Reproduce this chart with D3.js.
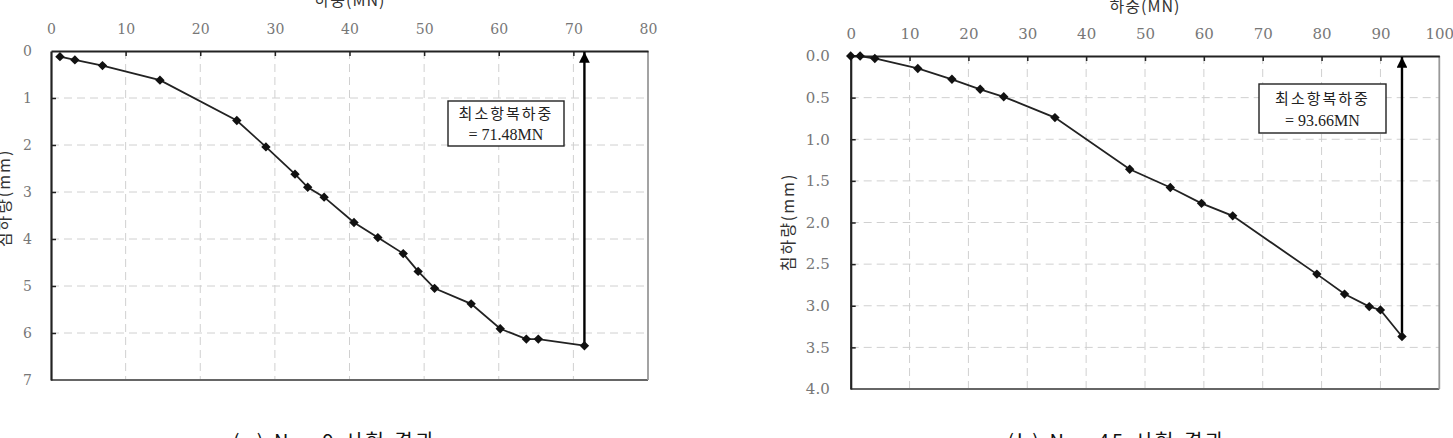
<!DOCTYPE html>
<html>
<head>
<meta charset="utf-8">
<script src="https://cdn.jsdelivr.net/npm/d3@7"></script>
<style>
  body { margin: 0; background: #fff; }
  svg { display: block; }
</style>
</head>
<body>
<script>
// (a) left test: load (MN) vs settlement (mm)
const loadA = [1.2, 3.2, 6.9, 14.6, 24.9, 28.8, 32.7, 34.4, 36.6, 40.6, 43.8, 47.2, 49.2, 51.4, 56.3, 60.2, 63.7, 65.3, 71.48];
const settleA = [0.12, 0.19, 0.31, 0.62, 1.48, 2.04, 2.62, 2.90, 3.11, 3.65, 3.97, 4.31, 4.69, 5.05, 5.38, 5.91, 6.13, 6.13, 6.27];
const xTicksA = [0, 10, 20, 30, 40, 50, 60, 70, 80];
const yTicksA = [0, 1, 2, 3, 4, 5, 6, 7];

// (b) right test
const loadB = [0, 1.6, 4.1, 11.4, 17.2, 22.0, 26.0, 34.7, 47.4, 54.3, 59.6, 64.9, 79.2, 83.9, 88.1, 90.0, 93.66];
const settleB = [0, 0, 0.03, 0.15, 0.28, 0.40, 0.49, 0.74, 1.36, 1.58, 1.77, 1.92, 2.62, 2.86, 3.01, 3.05, 3.37];
const xTicksB = [0, 10, 20, 30, 40, 50, 60, 70, 80, 90, 100];
const yTicksB = [0, 0.5, 1.0, 1.5, 2.0, 2.5, 3.0, 3.5, 4.0];

const xTitle = "하중(MN)";
const yTitle = "침하량(mm)";

const width = 1453, height = 438;
const svg = d3.select("body").append("svg")
    .attr("width", width)
    .attr("height", height);

const kr = "'Noto Sans CJK KR', sans-serif";
const serif = "'DejaVu Serif', 'Liberation Serif', serif";

svg.append("defs").append("marker")
    .attr("id", "arrow")
    .attr("viewBox", "0 0 10 10")
    .attr("refX", 10).attr("refY", 5)
    .attr("markerWidth", 4.5).attr("markerHeight", 4.5)
    .attr("orient", "auto")
  .append("path")
    .attr("d", "M0,0 L10,5 L0,10 z")
    .attr("fill", "#000");

function drawPanel(cfg) {
    const xScale = d3.scaleLinear().domain(cfg.xDomain).range([cfg.left, cfg.right]);
    const yScale = d3.scaleLinear().domain(cfg.yDomain).range([cfg.top, cfg.bottom]);
    const g = svg.append("g");

    // dashed grid
    g.append("g").selectAll("line")
        .data(cfg.xTicks.slice(1, -1))
        .enter().append("line")
        .attr("x1", d => xScale(d)).attr("x2", d => xScale(d))
        .attr("y1", cfg.top).attr("y2", cfg.bottom)
        .attr("stroke", "#d0d0d0")
        .attr("stroke-dasharray", "8,5");
    g.append("g").selectAll("line")
        .data(cfg.yTicks.slice(1, -1))
        .enter().append("line")
        .attr("y1", d => yScale(d)).attr("y2", d => yScale(d))
        .attr("x1", cfg.left).attr("x2", cfg.right)
        .attr("stroke", "#d0d0d0")
        .attr("stroke-dasharray", "8,5");

    // bottom and right frame (lighter)
    g.append("line")
        .attr("x1", cfg.left).attr("x2", cfg.right)
        .attr("y1", cfg.bottom).attr("y2", cfg.bottom)
        .attr("stroke", "#666").attr("stroke-width", 1.8);
    g.append("line")
        .attr("x1", cfg.right).attr("x2", cfg.right)
        .attr("y1", cfg.top).attr("y2", cfg.bottom)
        .attr("stroke", "#999").attr("stroke-width", 1.8);

    // axes
    const xAxis = d3.axisTop(xScale)
        .tickValues(cfg.xTicks)
        .tickSizeInner(-5).tickSizeOuter(0)
        .tickPadding(cfg.xPad);
    const gx = g.append("g")
        .attr("transform", `translate(0,${cfg.top})`)
        .call(xAxis);

    const yAxis = d3.axisLeft(yScale)
        .tickValues(cfg.yTicks)
        .tickFormat(cfg.yFormat)
        .tickSizeInner(-5).tickSizeOuter(0)
        .tickPadding(cfg.yPad);
    const gy = g.append("g")
        .attr("transform", `translate(${cfg.left},0)`)
        .call(yAxis);

    [gx, gy].forEach(a => {
        a.attr("font-size", null).attr("font-family", null);
        a.select(".domain").attr("stroke", "#222").attr("stroke-width", 2.2);
        a.selectAll(".tick line").attr("stroke", "#222").attr("stroke-width", 1.5);
        a.selectAll(".tick text")
            .attr("fill", "#777")
            .style("font-family", serif)
            .style("font-size", cfg.tickSize + "px");
    });
    gx.selectAll(".tick").filter(d => d === 0 || d === cfg.xTicks[cfg.xTicks.length - 1])
        .select("line").remove();
    gy.selectAll(".tick").filter(d => d === cfg.yTicks[0] || d === cfg.yTicks[cfg.yTicks.length - 1])
        .select("line").remove();

    // axis titles
    g.append("text")
        .attr("x", cfg.xTitleX).attr("y", cfg.xTitleY)
        .attr("text-anchor", "middle")
        .style("font-family", kr)
        .style("font-size", "16px")
        .style("letter-spacing", "1px")
        .attr("fill", "#333")
        .text(xTitle);
    g.append("text")
        .attr("transform", `translate(${cfg.yTitleX},${cfg.yTitleY}) rotate(-90)`)
        .attr("text-anchor", "middle")
        .attr("dy", "0.35em")
        .style("font-family", kr)
        .style("font-size", "16px")
        .style("letter-spacing", "2px")
        .attr("fill", "#333")
        .text(yTitle);

    // yield arrow
    const last = cfg.loads.length - 1;
    g.append("line")
        .attr("x1", xScale(cfg.loads[last])).attr("x2", xScale(cfg.loads[last]))
        .attr("y1", yScale(cfg.settles[last])).attr("y2", cfg.top + 1)
        .attr("stroke", "#000").attr("stroke-width", 2.4)
        .attr("marker-end", "url(#arrow)");

    // curve
    const pts = cfg.loads.map((v, i) => [v, cfg.settles[i]]);
    g.append("path")
        .datum(pts)
        .attr("fill", "none")
        .attr("stroke", "#222")
        .attr("stroke-width", 1.8)
        .attr("d", d3.line().x(d => xScale(d[0])).y(d => yScale(d[1])));

    g.append("g").selectAll("path")
        .data(pts)
        .enter().append("path")
        .attr("transform", d => `translate(${xScale(d[0])},${yScale(d[1])}) rotate(45)`)
        .attr("d", d3.symbol().type(d3.symbolSquare).size(44))
        .attr("fill", "#111");

    // annotation box
    const box = cfg.box;
    g.append("rect")
        .attr("x", box.x).attr("y", box.y)
        .attr("width", box.w).attr("height", box.h)
        .attr("fill", "#fff")
        .attr("stroke", "#222").attr("stroke-width", 1.4);
    g.append("text")
        .attr("x", box.x + box.w / 2).attr("y", box.y + box.h * 0.4)
        .attr("text-anchor", "middle")
        .style("font-family", kr).style("font-size", "15px")
        .style("letter-spacing", "2px")
        .attr("fill", "#222")
        .text("최소항복하중");
    g.append("text")
        .attr("x", box.x + box.w / 2).attr("y", box.y + box.h * 0.86)
        .attr("text-anchor", "middle")
        .style("font-family", "'Liberation Serif', serif").style("font-size", "16px")
        .attr("fill", "#222")
        .text(cfg.boxValue);

    // caption
    g.append("text")
        .attr("x", cfg.capX).attr("y", 449)
        .attr("text-anchor", "middle")
        .style("font-family", kr).style("font-size", "20px")
        .style("letter-spacing", "3px")
        .attr("fill", "#111")
        .text(cfg.caption);
}

drawPanel({
    xDomain: [0, 80], yDomain: [0, 7],
    left: 51, right: 648, top: 51, bottom: 380,
    xTicks: xTicksA, yTicks: yTicksA,
    yFormat: d3.format("d"), tickSize: 14,
    xPad: 17, yPad: 19,
    xTitleX: 350, xTitleY: 6, yTitleX: 4, yTitleY: 198,
    loads: loadA, settles: settleA,
    box: { x: 448, y: 101, w: 116, h: 45 },
    boxValue: "= 71.48MN",
    capX: 335, caption: "(a) No. 9 시험 결과"
});

drawPanel({
    xDomain: [0, 100], yDomain: [0, 4],
    left: 850.7, right: 1439.3, top: 56, bottom: 389,
    xTicks: xTicksB, yTicks: yTicksB,
    yFormat: d3.format(".1f"), tickSize: 15,
    xPad: 17, yPad: 21,
    xTitleX: 1145, xTitleY: 12, yTitleX: 788, yTitleY: 222,
    loads: loadB, settles: settleB,
    box: { x: 1259, y: 84, w: 127, h: 49 },
    boxValue: "= 93.66MN",
    capX: 1117, caption: "(b) No. 45 시험 결과"
});
</script>
</body>
</html>
